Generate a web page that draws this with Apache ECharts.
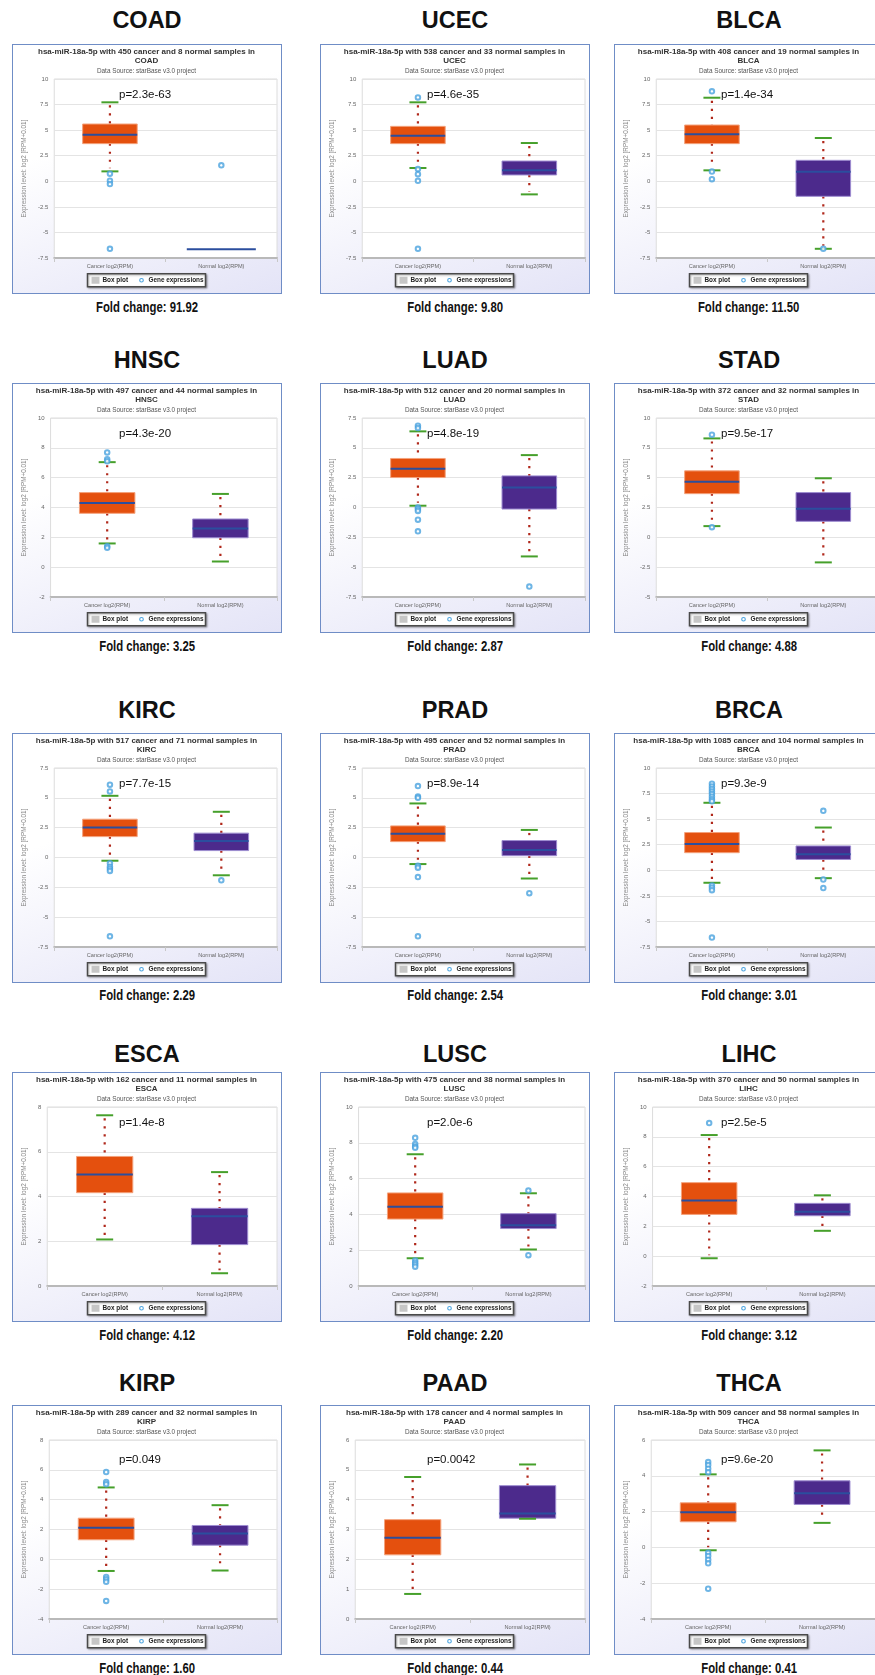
<!DOCTYPE html>
<html>
<head>
<meta charset="utf-8">
<script src="https://cdn.jsdelivr.net/npm/echarts@6/dist/echarts.min.js"></script>
<style>
html, body { margin: 0; padding: 0; background: #fff; }
body { width: 875px; height: 1675px; position: relative; overflow: hidden; font-family: 'Liberation Sans', Arial, sans-serif; }
.name { position: absolute; width: 270px; height: 28px; line-height: 28px; text-align: center; font-weight: bold; font-size: 23.5px; color: #111; }
.fold { position: absolute; width: 270px; height: 18px; line-height: 18px; text-align: center; font-weight: bold; font-size: 14px; color: #111; }
.fold span { display: inline-block; transform: scaleX(0.81); }
.frame { position: absolute; width: 270px; height: 250px; box-sizing: border-box; border: 1.5px solid #6f8dc6;
  background: linear-gradient(160deg, #ffffff 35%, #e4e4f7 100%); }
.chart { position: absolute; left: 0; top: 0; width: 267px; height: 247px; }
</style>
</head>
<body>
<script>
// data
const panels = ['COAD', 'UCEC', 'BLCA', 'HNSC', 'LUAD', 'STAD', 'KIRC', 'PRAD', 'BRCA', 'ESCA', 'LUSC', 'LIHC', 'KIRP', 'PAAD', 'THCA'];
const cancerCounts = [450, 538, 408, 497, 512, 372, 517, 495, 1085, 162, 475, 370, 289, 178, 509];
const normalCounts = [8, 33, 19, 44, 20, 32, 71, 52, 104, 11, 38, 50, 32, 4, 58];
const pValues = ['2.3e-63', '4.6e-35', '1.4e-34', '4.3e-20', '4.8e-19', '9.5e-17', '7.7e-15', '8.9e-14', '9.3e-9', '1.4e-8', '2.0e-6', '2.5e-5', '0.049', '0.0042', '9.6e-20'];
const foldChanges = ['91.92', '9.80', '11.50', '3.25', '2.87', '4.88', '2.29', '2.54', '3.01', '4.12', '2.20', '3.12', '1.60', '0.44', '0.41'];
const groups = ['Cancer log2(RPM)', 'Normal log2(RPM)'];

const axisMin = [-7.5, -7.5, -7.5, -2, -7.5, -5, -7.5, -7.5, -7.5, 0, 0, -2, -4, 0, -4];
const axisMax = [10, 10, 10, 10, 7.5, 10, 7.5, 7.5, 10, 8, 10, 10, 8, 6, 6];
const axisStep = [2.5, 2.5, 2.5, 2, 2.5, 2.5, 2.5, 2.5, 2.5, 2, 2, 2, 2, 1, 2];

// [lower whisker, q1, median, q3, upper whisker]
const cancerStats = [
  [0.97, 3.68, 4.56, 5.6, 7.72],
  [1.3, 3.68, 4.46, 5.37, 7.72],
  [1.07, 3.68, 4.59, 5.5, 8.17],
  [1.59, 3.61, 4.3, 5.0, 7.04],
  [0.15, 2.51, 3.24, 4.11, 6.38],
  [0.94, 3.66, 4.65, 5.57, 8.29],
  [-0.27, 1.75, 2.51, 3.21, 5.17],
  [-0.55, 1.33, 1.98, 2.65, 4.53],
  [-1.22, 1.72, 2.57, 3.69, 6.6],
  [2.08, 4.17, 4.98, 5.79, 7.63],
  [1.55, 3.74, 4.43, 5.2, 7.36],
  [-0.14, 2.8, 3.74, 4.93, 8.12],
  [-0.78, 1.31, 2.11, 2.76, 4.82],
  [0.84, 2.15, 2.72, 3.33, 4.76],
  [-0.16, 1.43, 1.97, 2.49, 4.08]
];
const normalStats = [
  [-6.64, -6.64, -6.64, -6.64, -6.64],
  [-1.28, 0.62, 1.07, 1.98, 3.74],
  [-6.6, -1.47, 0.94, 2.05, 4.23],
  [0.38, 1.97, 2.6, 3.23, 4.91],
  [-4.1, -0.13, 1.67, 2.65, 4.39],
  [-2.1, 1.34, 2.4, 3.75, 4.95],
  [-1.49, 0.58, 1.39, 2.04, 3.83],
  [-1.76, 0.15, 0.63, 1.42, 2.31],
  [-0.77, 1.06, 1.56, 2.38, 4.18],
  [0.57, 1.85, 3.12, 3.47, 5.09],
  [2.04, 3.21, 3.4, 4.04, 5.18],
  [1.7, 2.71, 2.98, 3.54, 4.08],
  [-0.75, 0.95, 1.73, 2.27, 3.63],
  [3.36, 3.38, 3.54, 4.47, 5.18],
  [1.37, 2.4, 3.03, 3.72, 5.42]
];
const cancerOutliers = [
  [0.74, 0.06, -0.27, -6.6],
  [8.2, 1.2, 0.7, 0.05, -6.6],
  [8.8, 0.95, 0.2],
  [7.69, 7.24, 7.1, 1.41, 1.3],
  [6.86, 6.66, 0.0, -0.13, -0.29, -1.02, -2.0],
  [8.6, 0.85],
  [6.1, 5.54, -0.49, -0.77, -0.95, -1.13, -6.6],
  [5.99, 5.12, 5.0, -0.7, -0.85, -1.64, -6.6],
  [8.46, 8.2, 7.95, 7.7, 7.45, 7.2, 6.95, 6.75, -1.48, -1.7, -1.94, -6.58],
  [],
  [8.28, 7.93, 7.8, 7.72, 1.42, 1.3, 1.2, 1.08],
  [8.92],
  [5.85, 5.18, 5.04, -1.18, -1.34, -1.51, -2.79],
  [],
  [4.77, 4.6, 4.4, 4.2, -0.3, -0.48, -0.69, -0.89, -2.31]
];
const normalOutliers = [
  [1.56], [], [-6.6], [], [-6.63], [], [-1.91], [-2.99],
  [5.81, -0.9, -1.74], [], [5.33, 1.72], [], [], [], []
];

// page layout
const colLeft = [12, 320, 614];
const nameMid = [20, 360, 710, 1054, 1383];
const frameTop = [44, 383, 733, 1072, 1405];
const foldMid = [307, 646, 995, 1335, 1668];

const FONT = "'Liberation Sans', Arial, sans-serif";
const boxFill = ['#e4500e', '#4c2a8c'];
const boxEdge = ['#f4a27c', '#9d8cd0'];

function renderBox(params, api) {
  const k = api.value(0);
  const lo = api.coord([k, api.value(1)]);
  const q1 = api.coord([k, api.value(2)]);
  const med = api.coord([k, api.value(3)]);
  const q3 = api.coord([k, api.value(4)]);
  const hi = api.coord([k, api.value(5)]);
  const cx = lo[0];
  const band = api.size([1, 0])[0];
  const bw = band * 0.49;
  const cap = 8.5;
  const dots = { stroke: '#b0281b', lineWidth: 2.2, lineDash: [2.2, 5.8] };
  const green = { stroke: '#46a02b', lineWidth: 2 };
  // a group with no spread collapses to a single wide median line
  if (hi[1] === lo[1]) {
    const w = band * 0.62;
    return { type: 'line', shape: { x1: cx - w / 2, y1: med[1], x2: cx + w / 2, y2: med[1] },
      style: { stroke: '#2b4e9e', lineWidth: 2 } };
  }
  return {
    type: 'group',
    children: [
      { type: 'line', shape: { x1: cx, y1: hi[1] + 3, x2: cx, y2: q3[1] }, style: dots },
      { type: 'line', shape: { x1: cx, y1: q1[1], x2: cx, y2: lo[1] - 3 }, style: dots },
      { type: 'rect', shape: { x: cx - bw / 2, y: q3[1], width: bw, height: q1[1] - q3[1] },
        style: { fill: boxFill[k], stroke: boxEdge[k], lineWidth: 1 } },
      { type: 'line', shape: { x1: cx - bw / 2, y1: med[1], x2: cx + bw / 2, y2: med[1] },
        style: { stroke: '#2b4e9e', lineWidth: 2 } },
      { type: 'line', shape: { x1: cx - cap, y1: hi[1], x2: cx + cap, y2: hi[1] }, style: green },
      { type: 'line', shape: { x1: cx - cap, y1: lo[1], x2: cx + cap, y2: lo[1] }, style: green }
    ]
  };
}

function legendGroup() {
  const t = { font: 'bold 6.4px ' + FONT, fill: '#222', verticalAlign: 'middle' };
  return {
    type: 'group', left: 'center', top: 228,
    children: [
      { type: 'rect', shape: { x: 0, y: 0, width: 118, height: 13 },
        style: { fill: '#fff', stroke: '#4a4a4a', lineWidth: 1.5, shadowBlur: 2, shadowColor: 'rgba(0,0,0,0.3)', shadowOffsetX: 1, shadowOffsetY: 1 } },
      { type: 'rect', shape: { x: 4, y: 3, width: 8, height: 7 }, style: { fill: '#c6c6c6' } },
      { type: 'text', x: 15, y: 6.5, style: Object.assign({ text: 'Box plot' }, t) },
      { type: 'circle', shape: { cx: 54, cy: 6.5, r: 1.8 }, style: { fill: '#fff', stroke: '#4aa3df', lineWidth: 1.1 } },
      { type: 'text', x: 61, y: 6.5, style: Object.assign({ text: 'Gene expressions' }, t) }
    ]
  };
}

panels.forEach((code, i) => {
  const r = Math.floor(i / 3), c = i % 3;
  const x0 = colLeft[c];

  const name = document.createElement('div');
  name.className = 'name';
  name.style.left = x0 + 'px';
  name.style.top = (nameMid[r] - 14) + 'px';
  name.textContent = code;
  document.body.appendChild(name);

  const frame = document.createElement('div');
  frame.className = 'frame';
  frame.style.left = x0 + 'px';
  frame.style.top = frameTop[r] + 'px';
  const box = document.createElement('div');
  box.className = 'chart';
  frame.appendChild(box);
  document.body.appendChild(frame);

  const fold = document.createElement('div');
  fold.className = 'fold';
  fold.style.left = x0 + 'px';
  fold.style.top = (foldMid[r] - 9) + 'px';
  fold.innerHTML = '<span>Fold change: ' + foldChanges[i] + '</span>';
  document.body.appendChild(fold);

  const neg = axisMin[i] < 0;
  const gridLeft = (neg ? (axisStep[i] % 1 ? 36 : 31) : 27) - 1;
  const points = cancerOutliers[i].map(v => [0, v]).concat(normalOutliers[i].map(v => [1, v]));

  const chart = echarts.init(box);
  chart.setOption({
    animation: false,
    title: {
      text: 'hsa-miR-18a-5p with ' + cancerCounts[i] + ' cancer and ' + normalCounts[i] + ' normal samples in\n' + code,
      subtext: 'Data Source: starBase v3.0 project',
      left: 'center', top: 3, itemGap: 3, padding: 0,
      textStyle: { fontFamily: FONT, fontSize: 8, fontWeight: 'bold', color: '#333', lineHeight: 8.5 },
      subtextStyle: { fontFamily: FONT, fontSize: 6.4, color: '#555' }
    },
    grid: {
      left: gridLeft, right: 3, top: 34, height: 179,
      show: true, backgroundColor: '#fff', borderColor: '#dcdcdc', borderWidth: 1
    },
    xAxis: {
      type: 'category', data: groups, boundaryGap: true,
      axisLine: { onZero: false, lineStyle: { color: '#b9b9b9', width: 2 } },
      axisTick: { show: true, length: 4, lineStyle: { color: '#c8c8c8' } },
      axisLabel: { fontFamily: FONT, fontSize: 5.6, color: '#666', margin: 5 }
    },
    yAxis: {
      type: 'value', min: axisMin[i], max: axisMax[i], interval: axisStep[i],
      name: 'Expression level: log2 [RPM+0.01]', nameLocation: 'middle', nameGap: gridLeft - 9,
      nameTextStyle: { fontFamily: FONT, fontSize: 6.4, color: '#888' },
      axisLine: { show: false }, axisTick: { show: false },
      axisLabel: { fontFamily: FONT, fontSize: 6, color: '#666', margin: 6 },
      splitLine: { lineStyle: { color: '#e4e4e4', width: 1 } }
    },
    graphic: [
      { type: 'text', x: 106, y: 34 + (r === 4 ? 20 : 16),
        style: { text: 'p=' + pValues[i], font: '11.5px ' + FONT, fill: '#111', verticalAlign: 'middle' }, z: 10 },
      legendGroup()
    ],
    series: [
      {
        name: 'Box plot', type: 'custom', renderItem: renderBox, z: 2,
        encode: { x: 0, y: [1, 2, 3, 4, 5] },
        data: [[0].concat(cancerStats[i]), [1].concat(normalStats[i])]
      },
      {
        name: 'Gene expressions', type: 'scatter', z: 3,
        symbol: 'emptyCircle', symbolSize: 4.5,
        itemStyle: { color: '#4aa3df', borderWidth: 1.1 },
        data: points
      }
    ]
  });
});
</script>
</body>
</html>
